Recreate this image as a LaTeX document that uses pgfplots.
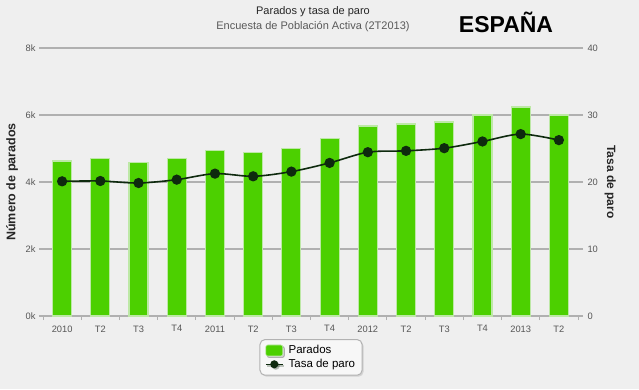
\documentclass[border=0pt]{standalone}
\usepackage{fontspec}
\setmainfont{Liberation Sans}
\usepackage{pgfplots}
\usepackage{pgfplotstable}
\pgfplotsset{compat=1.18}
\usetikzlibrary{shadows}
\definecolor{bg}{HTML}{EFEFEF}
\definecolor{barg}{HTML}{4CD000}
\definecolor{barb}{HTML}{BDE8A6}
\definecolor{gridc}{HTML}{B0B0B0}
\definecolor{linec}{HTML}{0E2A0E}
\definecolor{tickc}{HTML}{555555}

\pgfplotstableread{
x parados tasa
0 4.63 20.10
1 4.70 20.15
2 4.59 19.85
3 4.71 20.35
4 4.93 21.25
5 4.87 20.85
6 5.01 21.55
7 5.30 22.85
8 5.67 24.45
9 5.73 24.65
10 5.79 25.05
11 6.00 26.05
12 6.24 27.15
13 6.00 26.25
}\data

\begin{document}
\begin{tikzpicture}
\fill[bg] (0pt,0pt) rectangle (639pt,389pt);
\begin{axis}[
  at={(43pt,73pt)}, anchor=south west, scale only axis,
  width=535pt, height=268pt,
  xmin=-0.5, xmax=13.5, ymin=0, ymax=8,
  axis x line*=bottom, axis y line*=left,
  y axis line style={draw=none},
  x axis line style={draw=gridc, line width=1.3pt},
  xtick={0,...,13},
  xticklabels={2010,T2,T3,T4,2011,T2,T3,T4,2012,T2,T3,T4,2013,T2},
  minor xtick={-0.5,0.5,...,13.5},
  major x tick style={draw=none},
  minor x tick style={draw=gridc, line width=1pt},
  ytick={0,2,4,6,8}, yticklabels={0k,2k,4k,6k,8k},
  ymajorgrids, major grid style={draw=gridc, line width=1.3pt},
  major y tick style={draw=gridc, line width=1.3pt},
  tick align=outside, major tick length=4pt, minor tick length=4pt,
  ticklabel style={font=\fontsize{9.3}{10}\selectfont, text=tickc},
  xticklabel style={yshift=-2pt},
  ylabel={Número de parados},
  ylabel style={at={(axis description cs:-0.058,0.5)}, anchor=center, font=\bfseries\fontsize{12.5}{14}\selectfont, text=black!85},
]
\addplot[ybar, bar width=19pt, fill=barg, draw=barb, line width=1.2pt] table[x=x,y=parados]{\data};
\end{axis}
\begin{axis}[
  at={(43pt,73pt)}, anchor=south west, scale only axis,
  width=535pt, height=268pt,
  xmin=-0.5, xmax=13.5, ymin=0, ymax=40,
  axis x line=none, axis y line*=right,
  y axis line style={draw=none},
  ytick={0,10,20,30,40}, yticklabels={0,10,20,30,40},
  major y tick style={draw=gridc, line width=1.3pt},
  tick align=outside, major tick length=5pt,
  ticklabel style={font=\fontsize{9.3}{10}\selectfont, text=tickc},
  yticklabel style={xshift=1pt},
  ylabel={Tasa de paro},
  ylabel style={at={(axis description cs:1.06,0.5)}, anchor=center, rotate=180, font=\bfseries\fontsize{12}{14}\selectfont, text=black!85},
  legend style={at={(0.501,-0.086)}, anchor=north, draw=gray!60, fill=white!94!gray,
    rounded corners=5pt, line width=1pt, font=\fontsize{11.5}{13}\selectfont,
    row sep=0pt, column sep=3pt, inner xsep=5pt, inner ysep=4pt,
    drop shadow={shadow xshift=1.5pt, shadow yshift=-1.5pt, opacity=0.25}},
  legend cell align=left,
]
\addlegendimage{legend image code/.code={\filldraw[fill=barg,draw=barb,line width=0.6pt,rounded corners=2pt] (0pt,-5.5pt) rectangle (17pt,5.5pt);}}
\addlegendentry{Parados}
\addplot[linec, line width=1.6pt, smooth, mark=*, mark size=4.3pt, mark options={fill=linec, draw=linec},
  legend image code/.code={\draw[linec,line width=1.6pt] (0pt,0pt)--(17pt,0pt); \fill[linec] (8.5pt,0pt) circle (3.2pt);}]
  table[x=x,y=tasa]{\data};
\addlegendentry{Tasa de paro}
\end{axis}
\node[font=\fontsize{11}{13}\selectfont, text=black!85] at (313pt,377pt) {Parados y tasa de paro};
\node[font=\fontsize{11}{13}\selectfont, text=black!65] at (313pt,362pt) {Encuesta de Población Activa (2T2013)};
\node[font=\bfseries\fontsize{23}{26}\selectfont] at (506pt,367pt) {ESPAÑA};
\pgfresetboundingbox
\path (0pt,0pt) rectangle (639pt,389pt);
\end{tikzpicture}
\end{document}
